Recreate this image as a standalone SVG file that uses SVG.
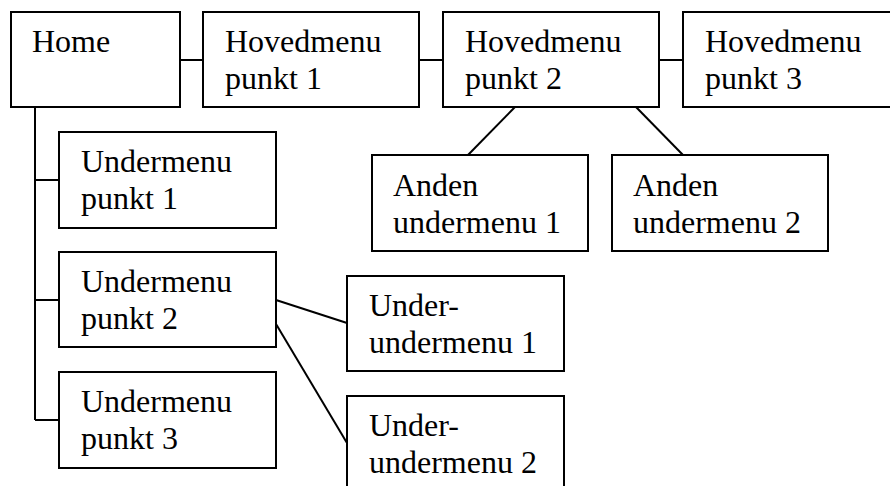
<svg xmlns="http://www.w3.org/2000/svg" width="890" height="486" viewBox="0 0 890 486">
<style>
.box{fill:#fff;stroke:#000;stroke-width:2}
.lbl{font-family:"Liberation Serif","Times New Roman",serif;font-size:32px;fill:#000}
.con line{stroke:#000;stroke-width:2}
</style>
<rect width="890" height="486" fill="#fff"/>
<g id="connectors" class="con">
<line x1="180" y1="60" x2="203" y2="60"/>
<line x1="419" y1="60" x2="443" y2="60"/>
<line x1="659" y1="60" x2="683" y2="60"/>
<line x1="35" y1="107" x2="35" y2="420"/>
<line x1="35" y1="180" x2="59" y2="180"/>
<line x1="35" y1="300" x2="59" y2="300"/>
<line x1="35" y1="420" x2="59" y2="420"/>
<line x1="515" y1="107" x2="468" y2="155"/>
<line x1="636" y1="107" x2="683" y2="155"/>
<line x1="276" y1="300" x2="347" y2="323"/>
<line x1="276" y1="324" x2="347" y2="443"/>
</g>
<g id="home"><rect class="box" x="11" y="12" width="169" height="95"/><text class="lbl" x="32" y="52">Home</text></g>
<g id="hoved1"><rect class="box" x="203" y="12" width="216" height="95"/><text class="lbl" x="225" y="52">Hovedmenu</text><text class="lbl" x="225" y="89">punkt 1</text></g>
<g id="hoved2"><rect class="box" x="443" y="12" width="216" height="95"/><text class="lbl" x="465" y="52">Hovedmenu</text><text class="lbl" x="465" y="89">punkt 2</text></g>
<g id="hoved3"><rect class="box" x="683" y="12" width="230" height="95"/><text class="lbl" x="705" y="52">Hovedmenu</text><text class="lbl" x="705" y="89">punkt 3</text></g>
<g id="anden1"><rect class="box" x="372" y="155" width="216" height="96"/><text class="lbl" x="393" y="196">Anden</text><text class="lbl" x="393" y="233">undermenu 1</text></g>
<g id="anden2"><rect class="box" x="612" y="155" width="216" height="96"/><text class="lbl" x="633" y="196">Anden</text><text class="lbl" x="633" y="233">undermenu 2</text></g>
<g id="under1"><rect class="box" x="59" y="132" width="217" height="96"/><text class="lbl" x="81" y="172">Undermenu</text><text class="lbl" x="81" y="209">punkt 1</text></g>
<g id="under2"><rect class="box" x="59" y="252" width="217" height="95"/><text class="lbl" x="81" y="292">Undermenu</text><text class="lbl" x="81" y="329">punkt 2</text></g>
<g id="under3"><rect class="box" x="59" y="372" width="217" height="96"/><text class="lbl" x="81" y="412">Undermenu</text><text class="lbl" x="81" y="449">punkt 3</text></g>
<g id="uu1"><rect class="box" x="347" y="276" width="217" height="95"/><text class="lbl" x="369" y="316">Under-</text><text class="lbl" x="369" y="353">undermenu 1</text></g>
<g id="uu2"><rect class="box" x="347" y="396" width="217" height="100"/><text class="lbl" x="369" y="436">Under-</text><text class="lbl" x="369" y="473">undermenu 2</text></g>
</svg>
